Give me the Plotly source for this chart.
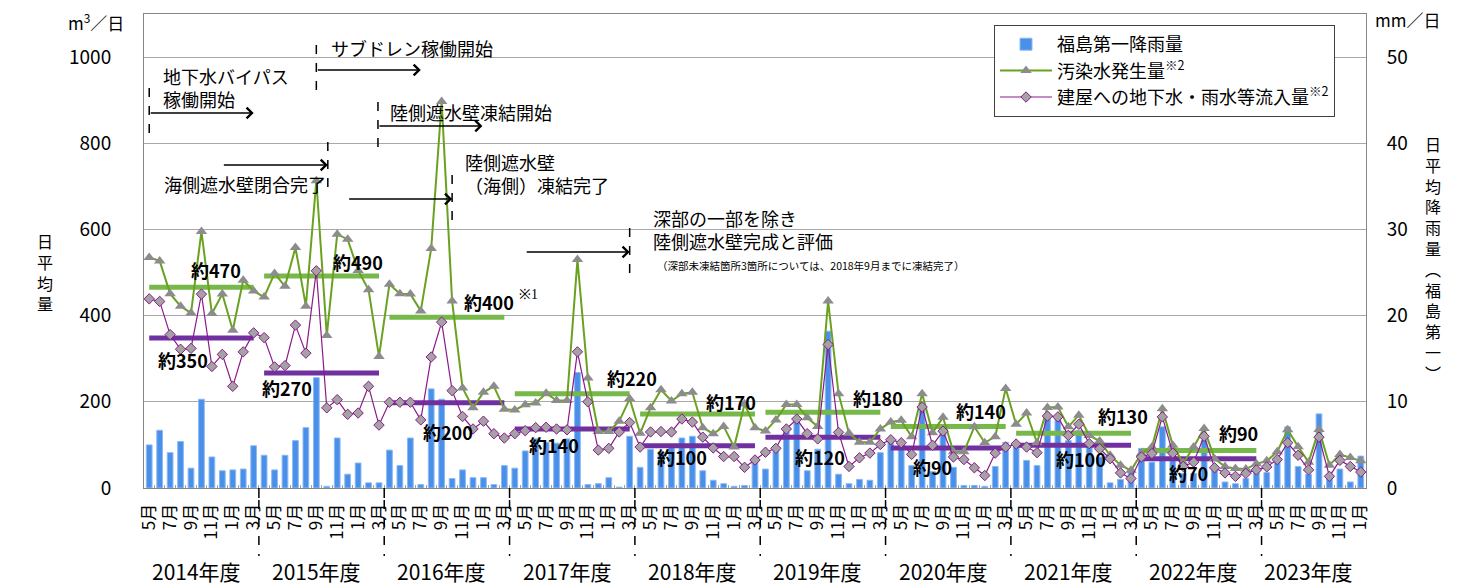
import plotly.graph_objects as go

# ---- data (monthly, May 2014 .. Jan 2024) ----
gen = [535, 527, 451, 422, 406, 595, 405, 450, 366, 482, 457,
       443, 498, 468, 558, 422, 713, 354, 589, 577, 505, 460, 305,
       473, 451, 450, 411, 556, 897, 434, 232, 186, 222, 236, 183,
       181, 193, 197, 220, 203, 203, 530, 255, 131, 131, 155, 207,
       127, 186, 228, 202, 219, 222, 140, 126, 143, 95, 195, 140,
       132, 158, 194, 194, 163, 143, 434, 219, 127, 106, 106, 137,
       153, 157, 119, 219, 128, 164, 84, 84, 142, 105, 119, 231,
       148, 174, 105, 187, 188, 142, 169, 122, 109, 76, 53, 41,
       80, 95, 184, 99, 58, 95, 138, 68, 50, 45, 44, 56,
       63, 84, 135, 96, 60, 136, 53, 78, 71, 63]

inflow = [439, 433, 356, 322, 324, 450, 282, 310, 236, 316, 360,
          349, 281, 284, 378, 313, 504, 186, 205, 171, 174, 236, 146,
          199, 199, 199, 158, 304, 385, 226, 166, 137, 155, 126, 116,
          126, 133, 140, 141, 137, 135, 316, 200, 88, 92, 130, 152,
          95, 130, 131, 130, 160, 153, 118, 93, 73, 73, 48, 65,
          83, 92, 137, 160, 126, 114, 333, 129, 50, 70, 81, 101,
          112, 105, 78, 188, 99, 132, 72, 66, 47, 29, 81, 95,
          102, 95, 82, 167, 165, 122, 148, 103, 91, 68, 35, 22,
          72, 80, 165, 81, 50, 60, 120, 47, 35, 27, 34, 42,
          49, 66, 105, 76, 42, 118, 27, 64, 50, 37]

rain = [5.0, 6.7, 4.1, 5.4, 2.3, 10.3, 3.6, 2.0, 2.1, 2.2, 4.9,
        3.8, 2.1, 3.8, 5.5, 7.0, 12.8, 0.2, 5.8, 1.6, 2.9, 0.6, 0.6,
        4.4, 2.6, 5.8, 0.4, 11.5, 10.3, 1.1, 2.1, 1.2, 1.2, 0.4, 2.6,
        2.3, 4.3, 5.7, 5.3, 5.2, 5.7, 13.4, 0.4, 0.5, 1.2, 0.1, 6.0,
        2.4, 4.5, 4.2, 5.0, 5.8, 6.0, 2.0, 0.9, 0.5, 0.2, 0.3, 3.5,
        2.2, 4.7, 6.5, 8.0, 2.0, 4.5, 18.2, 1.6, 0.5, 1.0, 0.9, 4.1,
        5.5, 5.2, 2.6, 9.2, 1.9, 6.5, 2.4, 0.3, 0.3, 0.2, 2.5, 5.3,
        4.8, 3.2, 2.6, 8.3, 8.1, 5.5, 6.7, 4.8, 3.6, 0.6, 1.0, 2.2,
        4.6, 3.0, 7.1, 4.0, 1.7, 1.7, 5.5, 2.4, 0.7, 0.5, 1.1, 2.1,
        1.8, 3.2, 7.1, 2.5, 1.6, 8.6, 1.3, 2.2, 0.7, 3.7]

fiscal_years = ["2014年度", "2015年度", "2016年度", "2017年度", "2018年度",
                "2019年度", "2020年度", "2021年度", "2022年度", "2023年度"]
avg_gen = [466, 492, 396, 219, 172, 176, 143, 127, 87]
avg_inflow = [348, 267, 198, 137, 98, 118, 93, 99, 68]
avg_gen_label = ["約470", "約490", "約400", "約220", "約170", "約180", "約140", "約130", "約90"]
avg_inflow_label = ["約350", "約270", "約200", "約140", "約100", "約120", "約90", "約100", "約70"]

# month index 0 = May 2014
n = len(gen)
idx = list(range(n))
month_num = [((i + 4) % 12) + 1 for i in idx]
tick_idx = [i for i in idx if month_num[i] % 2 == 1]
tick_txt = [f"{month_num[i]}月" for i in tick_idx]

FONT = "Noto Sans CJK JP"

def fy_range(k):
    start = 0 if k == 0 else 11 + 12 * (k - 1)
    end = min(10 + 12 * k, n - 1)
    return start, end

fig = go.Figure()

fig.add_trace(go.Bar(
    x=idx, y=rain, name="福島第一降雨量", yaxis="y", width=0.55,
    marker=dict(color="#4a8fe8", line=dict(color="#8cbaf4", width=1)),
))

for k, v in enumerate(avg_gen):
    s, e = fy_range(k)
    fig.add_trace(go.Scatter(x=[s, e], y=[v, v], yaxis="y2", mode="lines",
                             line=dict(color="#77b84a", width=5),
                             showlegend=False, hoverinfo="skip"))
for k, v in enumerate(avg_inflow):
    s, e = fy_range(k)
    fig.add_trace(go.Scatter(x=[s, e], y=[v, v], yaxis="y2", mode="lines",
                             line=dict(color="#7030a0", width=5),
                             showlegend=False, hoverinfo="skip"))

fig.add_trace(go.Scatter(
    x=idx, y=gen, yaxis="y2", mode="lines+markers",
    name="汚染水発生量<sup>※2</sup>",
    line=dict(color="#6aa121", width=2),
    marker=dict(symbol="triangle-up", size=10, color="#8c8c8c",
                line=dict(width=0)),
))
fig.add_trace(go.Scatter(
    x=idx, y=inflow, yaxis="y2", mode="lines+markers",
    name="建屋への地下水・雨水等流入量<sup>※2</sup>",
    line=dict(color="#8b1a8b", width=1.2),
    marker=dict(symbol="diamond", size=8, color="#a3a3a3",
                line=dict(color="#8b1a8b", width=1)),
))

annotations = []
shapes = []

# average labels
gen_lab_pos = [(6.4, 506), (20.0, 524), (32.5, 432), (46.2, 255), (55.7, 200),
               (69.8, 209), (79.6, 179), (93.2, 167), (104.3, 128)]
in_lab_pos = [(3.2, 297), (13.2, 232), (28.6, 130), (38.8, 100), (51.0, 72),
              (64.2, 72), (75.0, 49), (89.2, 67), (99.5, 35)]
for (px, py), t in zip(gen_lab_pos, avg_gen_label):
    annotations.append(dict(x=px, y=py, xref="x", yref="y2", text=t, showarrow=False,
                            xanchor="center", yanchor="middle",
                            font=dict(family=FONT, size=18, color="black", weight="bold")))
for (px, py), t in zip(in_lab_pos, avg_inflow_label):
    annotations.append(dict(x=px, y=py, xref="x", yref="y2", text=t, showarrow=False,
                            xanchor="center", yanchor="middle",
                            font=dict(family=FONT, size=18, color="black", weight="bold")))
annotations.append(dict(x=36.3, y=450, xref="x", yref="y2", text="※1", showarrow=False,
                        xanchor="center", yanchor="middle",
                        font=dict(family="Liberation Serif", size=14, color="black")))

# events: (dashed x, y0, y1, arrow tail x, arrow y)  y in paper
def py_(ypx):
    return (488 - ypx) / 474

events = [
    (0.0, 88, 140, 10.0, 113),
    (16.0, 45, 97, 26.0, 70),
    (17.1, 142, 194, 7.0, 165),
    (21.9, 102, 153, 31.9, 126),
    (29.0, 175, 228, 19.0, 199),
    (46.0, 228, 278, 36.0, 252),
]
for ex, y0, y1, tail, ay in events:
    shapes.append(dict(type="line", xref="x", yref="paper", x0=ex, x1=ex,
                       y0=py_(y0), y1=py_(y1),
                       line=dict(color="black", width=1.5, dash="dash")))
    if tail > ex:
        head, start = tail, ex
    else:
        head, start = ex, tail
    annotations.append(dict(x=head, y=py_(ay), xref="x", yref="paper",
                            ax=start, ay=0, axref="x", ayref="pixel",
                            text="", showarrow=True, arrowhead=4, arrowsize=1.4,
                            arrowwidth=1.5, arrowcolor="black", standoff=0))

ev_texts = [
    (1.1, 87, "地下水バイパス<br>稼働開始", 18),
    (17.2, 48, "サブドレン稼働開始", 18),
    (1.25, 184, "海側遮水壁閉合完了", 18),
    (22.9, 112, "陸側遮水壁凍結開始", 18),
    (30.0, 173, "陸側遮水壁<br>（海側）凍結完了", 18),
    (48.0, 229, "深部の一部を除き<br>陸側遮水壁完成と評価", 18),
    (48.4, 265, "（深部未凍結箇所3箇所については、2018年9月までに凍結完了）", 10.5),
]
for ex, ypx, t, fs in ev_texts:
    annotations.append(dict(x=ex, y=py_(ypx), xref="x", yref="paper", text=t,
                            showarrow=False, xanchor="left", yanchor="middle", align="left",
                            font=dict(family=FONT, size=fs, color="black")))

# fiscal year separators and labels
for k in range(len(fiscal_years) - 1):
    bx = 10.5 + 12 * k
    shapes.append(dict(type="line", xref="x", yref="paper", x0=bx, x1=bx,
                       y0=0, y1=-10 / 474, line=dict(color="black", width=1.5)))
    shapes.append(dict(type="line", xref="x", yref="paper", x0=bx, x1=bx,
                       y0=-12 / 474, y1=-68 / 474,
                       line=dict(color="black", width=1.5, dash="dash")))
for k, name in enumerate(fiscal_years):
    s, e = fy_range(k)
    annotations.append(dict(x=(s + e) / 2 - 0.5, y=py_(571), xref="x", yref="paper",
                            text=name, showarrow=False, xanchor="center", yanchor="middle",
                            font=dict(family=FONT, size=21, color="black")))

# units and axis titles
annotations += [
    dict(x=(96 - 144) / 1222, y=py_(22), xref="paper", yref="paper",
         xanchor="center", yanchor="middle",
         text="m<sup>3</sup>／日", showarrow=False, font=dict(family=FONT, size=17, color="black")),
    dict(x=(1407 - 144) / 1222, y=py_(20), xref="paper", yref="paper",
         xanchor="center", yanchor="middle",
         text="mm／日", showarrow=False, font=dict(family=FONT, size=17, color="black")),
    dict(x=(45 - 144) / 1222, y=py_(272), xref="paper", yref="paper",
         xanchor="center", yanchor="middle",
         text="<br>".join("日平均量"), showarrow=False,
         font=dict(family=FONT, size=16, color="black")),
    dict(x=(1433 - 144) / 1222, y=py_(258), xref="paper", yref="paper",
         xanchor="center", yanchor="middle",
         text="<br>".join("日平均降雨量︵福島第一︶"), showarrow=False,
         font=dict(family=FONT, size=16, color="black")),
]

axis_line = "#868686"
fig.update_layout(
    width=1458, height=585,
    margin=dict(l=144, r=92, t=14, b=97),
    paper_bgcolor="white", plot_bgcolor="white",
    font=dict(family=FONT, color="black"),
    barmode="overlay",
    xaxis=dict(range=[-0.5, n - 0.5], tickmode="array", tickvals=tick_idx, ticktext=tick_txt,
               tickangle=-90, ticks="", showgrid=False, zeroline=False,
               showline=True, linecolor=axis_line, linewidth=1, mirror=True,
               tickfont=dict(family=FONT, size=17, color="black"), ticklabelstandoff=8,
               minor=dict(tickmode="array", tickvals=[i + 0.5 for i in idx[:-1]],
                          ticks="inside", ticklen=3, tickcolor="#a0a0a0", showgrid=False)),
    yaxis=dict(range=[0, 55], tickmode="array", tickvals=[0, 10, 20, 30, 40, 50],
               side="right", showgrid=True, gridcolor="#a8a8a8",
               gridwidth=1, zeroline=False, ticks="", showline=True, linecolor=axis_line,
               tickfont=dict(family=FONT, size=19, color="black"), ticklabelstandoff=16),
    yaxis2=dict(range=[0, 1100], tickmode="array", tickvals=[0, 200, 400, 600, 800, 1000],
                side="left", overlaying="y", showgrid=False,
                zeroline=False, ticks="", showline=True, linecolor=axis_line,
                tickfont=dict(family=FONT, size=19, color="black"), ticklabelstandoff=28),
    legend=dict(x=(994 - 144) / 1222, y=py_(25), xanchor="left", yanchor="top",
                bgcolor="white", bordercolor="#404040", borderwidth=1,
                font=dict(family=FONT, size=18, color="black"), tracegroupgap=0,
                itemwidth=52),
    shapes=shapes,
    annotations=annotations,
    showlegend=True,
)

fig.write_html("out.html", config={"displayModeBar": False},
               post_script="document.body.style.margin='0';document.body.style.padding='0';")
